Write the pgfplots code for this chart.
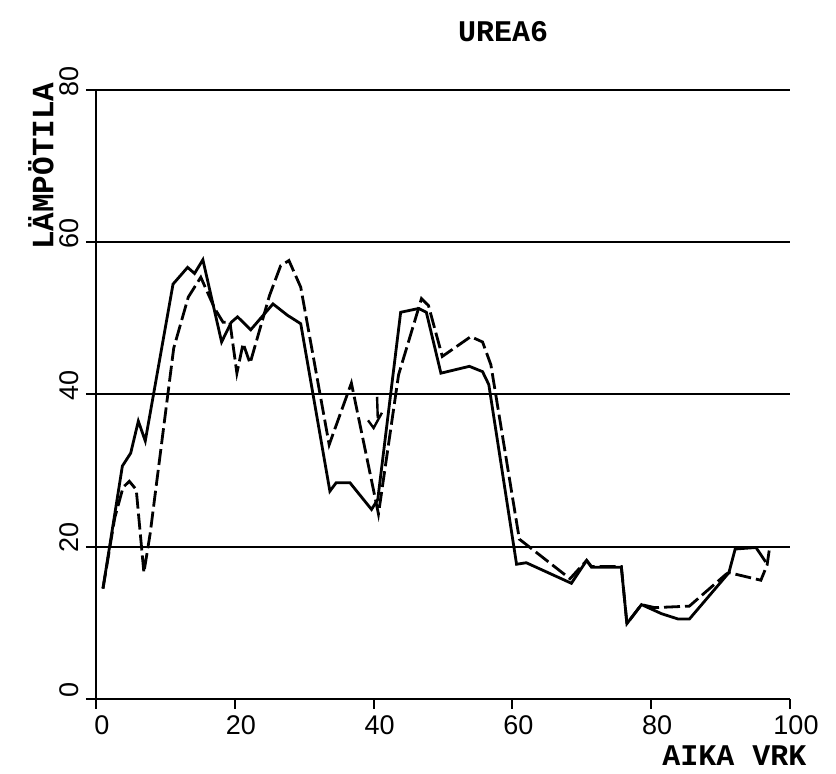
\documentclass[border=0pt]{standalone}
\usepackage{fontspec}
\setmainfont{Liberation Sans}
\newfontfamily\monob{Liberation Mono}
\usepackage{pgfplots}
\pgfplotsset{compat=1.18}

\begin{document}
\begin{tikzpicture}
% page frame, 2px per pt
\path (-48pt,-37.5pt) rectangle (370pt,349.5pt);
\begin{axis}[
    at={(0pt,0pt)}, anchor=south west,
    scale only axis,
    width=347pt, height=304.5pt,
    xmin=0, xmax=100, ymin=0, ymax=80,
    axis x line*=bottom, axis y line*=left,
    axis line style={line width=1pt},
    xtick={0,20,...,100}, ytick={0,20,...,80},
    tick align=outside, major tick length=5pt,
    tick style={line width=1pt, black},
    ymajorgrids, major grid style={line width=1pt, black},
    /pgf/number format/assume math mode=true,
    ticklabel style={font=\fontsize{13.5}{16}\selectfont},
    xticklabel style={xshift=3pt},
    yticklabel style={yshift=4.5pt, rotate=90, anchor=south},
    title={UREA6},
    title style={at={(axis description cs:0.5865,1.0755)}, anchor=center,
        font=\monob\bfseries\fontsize{15}{18}\selectfont},
    xlabel={AIKA VRK},
    xlabel style={at={(axis description cs:0.92,-0.0936)}, anchor=center,
        font=\monob\bfseries\fontsize{15}{18}\selectfont},
    ylabel={LÄMPÖTILA},
    ylabel style={at={(axis description cs:-0.0793,0.875)}, anchor=center,
        font=\monob\bfseries\fontsize{15.5}{18}\selectfont},
    clip=false,
]
    % solid curve
    \addplot[black, line width=1.4pt] coordinates {
        (1,14.5) (3.8,30.6) (5.0,32.3) (6.1,36.5) (7.1,33.9) (11.1,54.5)
        (13.2,56.7) (14.2,55.9) (15.4,57.7) (18.1,46.9) (19.5,49.5) (20.4,50.2)
        (22.3,48.5) (25.5,51.9) (27.6,50.4) (29.5,49.3) (33.7,27.3) (34.6,28.4)
        (36.6,28.4) (39.7,24.9) (40.6,26.2) (43.9,50.8) (46.5,51.3) (47.6,50.8)
        (49.7,42.8) (53.8,43.7) (55.7,43.0) (56.6,41.3) (60.6,17.7) (62.0,17.9)
        (68.5,15.2) (70.7,18.2) (71.4,17.3) (75.7,17.3) (76.5,9.9) (78.6,12.4)
        (81.5,11.2) (83.9,10.5) (85.5,10.5) (89.8,15.1) (91.2,16.6) (92.1,19.7)
        (95.1,19.9) (96.5,18.0)
    };
    % dashed curve
    \addplot[black, line width=1.4pt, dash pattern=on 8pt off 2.5pt] coordinates {
        (1,14.5) (2.7,23.8) (3.9,27.8) (4.8,28.6) (5.8,27.5) (6.9,16.6)
        (7.8,21.7) (11.2,46.1) (13.3,52.8) (15.1,55.4) (17.1,51.3) (18.3,49.5)
        (19.3,49.5) (20.3,42.8) (21.2,46.7) (22.2,44.1) (25.0,53.0) (26.6,56.9)
        (27.8,57.6) (29.5,54.1) (33.6,33.4) (36.8,41.5) (40.7,24.3) (43.6,42.6)
        (46.9,52.6) (47.9,51.7) (49.9,45.0) (54.0,47.6) (55.7,46.9) (56.9,43.9)
        (61.0,21.0) (68.3,15.8) (70.7,18.2) (71.4,17.4) (75.7,17.4) (76.5,9.9)
        (78.6,12.4) (80.5,12.0) (85.5,12.2) (90.8,16.4) (91.2,16.6) (95.8,15.6)
        (96.7,17.6) (97.0,19.5)
    };
    % short strokes near day 40
    \addplot[black, line width=1.2pt] coordinates {(39.2,36.6) (40.0,35.6) (41.2,37.6)};
    \addplot[black, line width=1.2pt] coordinates {(40.5,39.7) (40.6,36.9)};
\end{axis}
\end{tikzpicture}
\end{document}
